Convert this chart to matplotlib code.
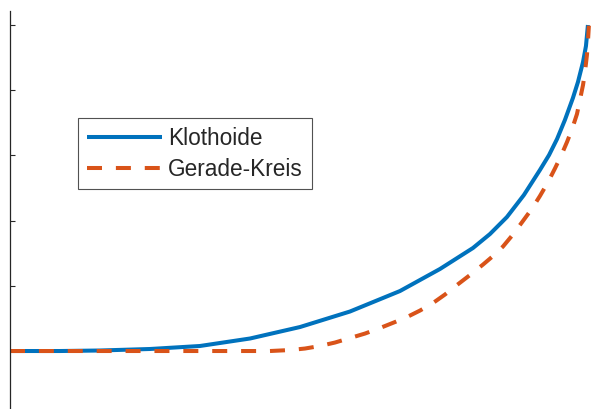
"""Klothoide vs. Gerade-Kreis transition curve comparison."""

import matplotlib
matplotlib.use("Agg")
import matplotlib.pyplot as plt

# Klothoide
kl_x = [0.000, 0.306, 0.551, 0.857, 1.163, 1.470, 1.776, 2.082, 2.388, 2.633,
        2.835, 2.939, 3.043, 3.147, 3.245, 3.301, 3.350, 3.398, 3.447, 3.478,
        3.509, 3.527, 3.539]
kl_y = [0.000, 0.000, 0.008, 0.031, 0.077, 0.192, 0.368, 0.606, 0.920, 1.258,
        1.580, 1.794, 2.055, 2.393, 2.776, 3.006, 3.252, 3.543, 3.880, 4.126,
        4.433, 4.678, 5.000]

# Gerade-Kreis (straight line followed by circular arc)
gk_x = [0.000, 1.592, 1.715, 1.806, 1.898, 1.990, 2.082, 2.174, 2.266, 2.358,
        2.431, 2.511, 2.590, 2.664, 2.737, 2.817, 2.897, 2.958, 3.019, 3.080,
        3.141, 3.197, 3.245, 3.295, 3.337, 3.374, 3.411, 3.442, 3.472, 3.490,
        3.509, 3.521, 3.533, 3.539, 3.545]
gk_y = [0.000, 0.000, 0.015, 0.038, 0.077, 0.130, 0.199, 0.268, 0.353, 0.445,
        0.521, 0.621, 0.736, 0.867, 1.012, 1.166, 1.327, 1.457, 1.603, 1.787,
        1.994, 2.186, 2.377, 2.592, 2.799, 2.991, 3.206, 3.405, 3.635, 3.850,
        4.080, 4.279, 4.540, 4.739, 4.990]

y_ticks = [0, 1, 2, 3, 4, 5]

plt.rcParams["font.family"] = ["Liberation Sans", "DejaVu Sans"]
plt.rcParams["lines.scale_dashes"] = False

W, H = 599, 409
fig = plt.figure(figsize=(W / 100, H / 100), dpi=100)

# axes extend past the figure edges (picture is a crop)
x_unit, y_unit = 163.3, 65.2
xlim = (0, 3.6)
ylim = (-0.9, 5.215)
left_px, top_px = 10, 11
w_px = (xlim[1] - xlim[0]) * x_unit
h_px = (ylim[1] - ylim[0]) * y_unit
ax = fig.add_axes([left_px / W, 1 - (top_px + h_px) / H, w_px / W, h_px / H])

ax.plot(kl_x, kl_y, color="#0072BD", linewidth=2.9, label="Klothoide",
        solid_capstyle="butt", solid_joinstyle="round")
ax.plot(gk_x, gk_y, color="#D95319", linewidth=2.9, linestyle=(0, (10.8, 10)),
        label="Gerade-Kreis", dash_capstyle="butt", dash_joinstyle="round")

ax.set_xlim(*xlim)
ax.set_ylim(*ylim)
ax.set_yticks(y_ticks)
ax.set_yticklabels([])
ax.set_xticks([])
ax.tick_params(axis="y", direction="in", length=3.6, width=0.8, color="#262626")
for side in ("top", "right", "bottom"):
    ax.spines[side].set_visible(False)
ax.spines["left"].set_color("#262626")
ax.spines["left"].set_linewidth(0.9)

leg = ax.legend(loc="upper left", bbox_to_anchor=(78 / W, 1 - 118 / H),
                bbox_transform=fig.transFigure, borderaxespad=0,
                fontsize=16.3, frameon=True, fancybox=False,
                handlelength=3.35, handletextpad=0.26, borderpad=0.38,
                labelspacing=0.36)
leg.get_frame().set_edgecolor("#262626")
leg.get_frame().set_linewidth(0.8)
for t in leg.get_texts():
    t.set_color("#262626")

fig.savefig("out.png", dpi=100)
